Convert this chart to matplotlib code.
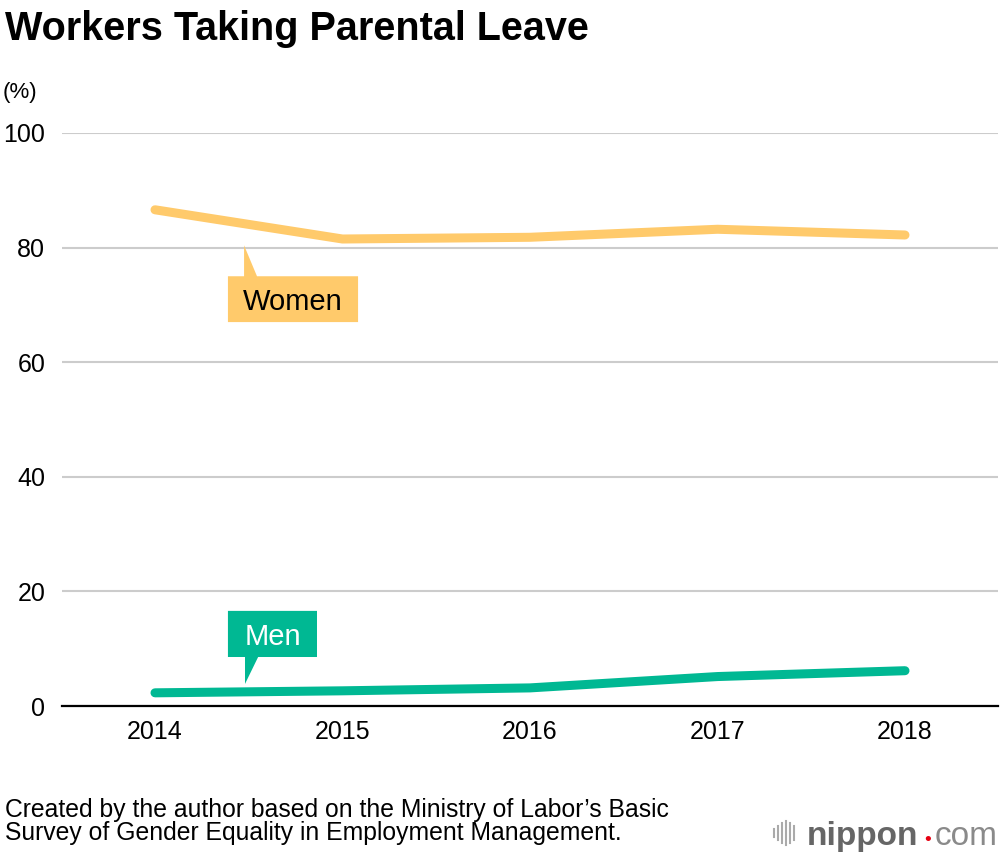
import matplotlib
matplotlib.use("Agg")
import matplotlib.pyplot as plt
from matplotlib.patches import Polygon

plt.rcParams['font.family'] = ['Liberation Sans', 'DejaVu Sans']

# data: share of workers taking parental leave (%)
years = [2014, 2015, 2016, 2017, 2018]
women = [86.6, 81.5, 81.8, 83.2, 82.2]
men = [2.30, 2.65, 3.16, 5.14, 6.16]
y_ticks = [0, 20, 40, 60, 80, 100]

WOMEN_COLOR = '#FFCA6B'
MEN_COLOR = '#00B893'

W, H = 1000, 856
fig = plt.figure(figsize=(W / 100, H / 100), dpi=100)
ax = fig.add_axes([62 / W, (H - 706) / H, (998 - 62) / W, (706 - 133) / H])

ax.plot(years, women, color=WOMEN_COLOR, lw=6.5, solid_capstyle='round',
        solid_joinstyle='round', zorder=3)
ax.plot(years, men, color=MEN_COLOR, lw=6.5, solid_capstyle='round',
        solid_joinstyle='round', zorder=3)

ax.set_xlim(2013.504, 2018.496)
ax.set_ylim(0, 100)
ax.set_xticks(years)
ax.set_yticks(y_ticks)
ax.tick_params(length=0, labelsize=18)
ax.tick_params(axis='y', pad=12)
ax.tick_params(axis='x', pad=10)
for s in ['left', 'right', 'top']:
    ax.spines[s].set_visible(False)
ax.spines['bottom'].set_color('black')
ax.spines['bottom'].set_linewidth(1.6)
ax.yaxis.grid(True, color='#CCCCCC', lw=1.5)
ax.set_axisbelow(True)


def callout(x0, x1, y0, y1, px0, px1, tip, up, color, label, tcolor):
    # box with a small pointer, in data coords
    if up:
        pts = [(x0, y0), (x1, y0), (x1, y1), (px1, y1), tip, (px0, y1), (x0, y1)]
    else:
        pts = [(x0, y1), (x1, y1), (x1, y0), (px1, y0), tip, (px0, y0), (x0, y0)]
    ax.add_patch(Polygon(pts, closed=True, color=color, lw=0, zorder=4))
    ax.text((x0 + x1) / 2, (y0 + y1) / 2, label, ha='center', va='center_baseline',
            fontsize=21, color=tcolor, zorder=5)


callout(2014.389, 2015.083, 67.0, 75.0, 2014.475, 2014.544, (2014.475, 80.4),
        True, WOMEN_COLOR, 'Women', 'black')
callout(2014.389, 2014.864, 8.55, 16.6, 2014.48, 2014.55, (2014.48, 3.85),
        False, MEN_COLOR, 'Men', 'white')

fig.text(5 / W, 1 - 40 / H, 'Workers Taking Parental Leave', fontsize=28.5,
         fontweight='bold', va='baseline')
fig.text(3 / W, 1 - 98 / H, '(%)', fontsize=16, va='baseline')
fig.text(5 / W, 1 - 817 / H, "Created by the author based on the Ministry of Labor\u2019s Basic",
         fontsize=17.8, va='baseline')
fig.text(5 / W, 1 - 840 / H, 'Survey of Gender Equality in Employment Management.',
         fontsize=17.8, va='baseline')

# nippon.com logo
for i, h in enumerate([8, 14, 20, 24, 20, 14]):
    xx = (774 + i * 4) / W
    fig.add_artist(plt.Line2D([xx, xx], [1 - (833 + h / 2) / H, 1 - (833 - h / 2) / H],
                              color='#AAAAAA', lw=1.5))
fig.text(807 / W, 1 - 845 / H, 'nippon', fontsize=24, fontweight='bold',
         color='#666666', va='baseline')
fig.text(924 / W, 1 - 845 / H, '\u2022', fontsize=14, color='#E60012', va='baseline')
fig.text(935 / W, 1 - 845 / H, 'com', fontsize=24, color='#8A8A8A', va='baseline')

fig.savefig('out.png', dpi=100, facecolor='white')
